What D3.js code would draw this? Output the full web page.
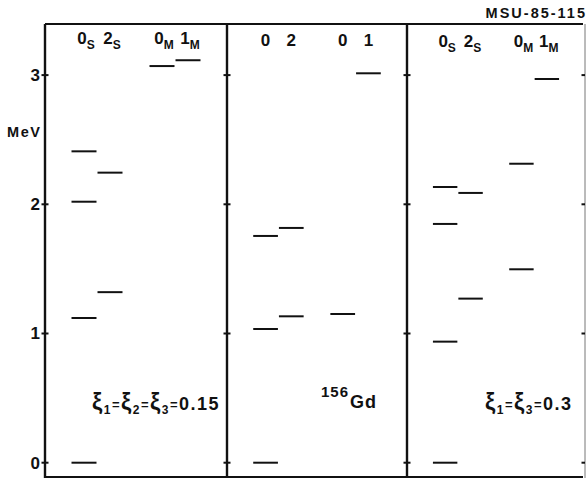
<!DOCTYPE html>
<html>
<head>
<meta charset="utf-8">
<script src="https://cdn.jsdelivr.net/npm/d3@7"></script>
<style>
  html, body { margin: 0; padding: 0; background: #fff; }
  svg { display: block; }
  text { font-family: "Liberation Sans", "DejaVu Sans", sans-serif; font-weight: bold; fill: #111; }
</style>
</head>
<body>
<svg id="chart" width="587" height="478"></svg>
<script>
// Energy axis (MeV) tick values
const energyTicks = [0, 1, 2, 3];

// Column slots inside each panel (7 equal slots, columns in 1,2,4,5)
const columnSlots = [1, 2, 4, 5];

// Column headers: [main label, subscript]
const headersModel = [["0", "S"], ["2", "S"], ["0", "M"], ["1", "M"]];
const headersExp   = [["0", ""], ["2", ""], ["0", ""], ["1", ""]];

// Level energies (MeV) per column
const levelsXi015 = [[0, 1.12, 2.02, 2.41], [1.32, 2.245], [3.07], [3.115]];
const levelsGd156 = [[0, 1.035, 1.755], [1.133, 1.817], [1.151], [3.014]];
const levelsXi03  = [[0, 0.937, 1.848, 2.134], [1.27, 2.088], [1.497, 2.314], [2.97]];

const svg = d3.select("#chart");
const W = 587, H = 478;

const y = d3.scaleLinear().domain([0, 3]).range([462.7, 75.1]);

const frameTop = 24, frameBottom = 477;
const edges = [45, 227, 407, 585];

const panels = [
  { levels: levelsXi015, headers: headersModel },
  { levels: levelsGd156, headers: headersExp },
  { levels: levelsXi03,  headers: headersModel }
];

// Frame: top and bottom rules
svg.append("line").attr("x1", edges[0]).attr("x2", 583).attr("y1", frameTop).attr("y2", frameTop)
  .attr("stroke", "#111").attr("stroke-width", 2);
svg.append("line").attr("x1", edges[0]).attr("x2", 583).attr("y1", frameBottom).attr("y2", frameBottom)
  .attr("stroke", "#111").attr("stroke-width", 2);

// Vertical panel borders with crossing ticks
edges.forEach((ex, i) => {
  const last = i === edges.length - 1;
  svg.append("line").attr("x1", ex).attr("x2", ex).attr("y1", frameTop).attr("y2", H)
    .attr("stroke", last ? "#777" : "#111").attr("stroke-width", last ? 1 : 2.4);
  svg.append("g").selectAll("line").data(energyTicks).join("line")
    .attr("x1", ex - 3.5).attr("x2", last ? ex : ex + 3.5)
    .attr("y1", d => y(d)).attr("y2", d => y(d))
    .attr("stroke", "#111").attr("stroke-width", 2);
});

// Left axis labels
const axis = d3.axisLeft(y).tickValues(energyTicks).tickSize(0).tickPadding(5).tickFormat(d3.format("d"));
const ag = svg.append("g").attr("transform", `translate(${edges[0]},0)`).call(axis);
ag.select(".domain").remove();
ag.selectAll("text").attr("font-size", 17).attr("font-family", "Liberation Sans, sans-serif")
  .attr("font-weight", "bold").attr("fill", "#111");

svg.append("text").attr("x", 7).attr("y", 137).attr("font-size", 14.5).attr("letter-spacing", 1.6).text("MeV");

// Figure code
svg.append("text").attr("x", 587).attr("y", 18).attr("text-anchor", "end")
  .attr("font-size", 14.5).attr("letter-spacing", 2).text("MSU-85-115");

// Panels
panels.forEach((p, pi) => {
  const x = d3.scaleLinear().domain([0, 7]).range([edges[pi], edges[pi + 1]]);
  const g = svg.append("g");

  p.levels.forEach((col, ci) => {
    const slot = columnSlots[ci];
    g.selectAll(null).data(col).join("line")
      .attr("x1", x(slot) + 0.5).attr("x2", x(slot + 1) - 0.5)
      .attr("y1", d => y(d)).attr("y2", d => y(d))
      .attr("stroke", "#111").attr("stroke-width", 2);
  });

  p.headers.forEach(([main, sub], ci) => {
    const slot = columnSlots[ci];
    const cx = x(slot + 0.5) + (sub ? 2 : 0);
    const t = g.append("text").attr("x", cx).attr("y", 44 + pi * 1.5)
      .attr("text-anchor", "middle").attr("font-size", 17);
    t.append("tspan").text(main);
    if (sub) t.append("tspan").attr("font-size", 12).attr("dy", 5).text(sub);
  });
});

// Parameter annotations: ξ with subscripts
function addXi(xPos, yPos, parts) {
  const t = svg.append("text").attr("x", xPos).attr("y", yPos).attr("font-size", 18)
    .attr("letter-spacing", 1.5);
  let shift = 0;
  parts.forEach(([s, kind]) => {
    const ts = t.append("tspan").text(s);
    let target = 0, size = 18;
    if (kind === "xi") { target = 0; size = 23; }
    if (kind === "sub") { target = 4; size = 12; }
    if (kind === "eq") { target = -1; size = 13; }
    ts.attr("font-size", size).attr("dy", target - shift);
    shift = target;
  });
  return t;
}
addXi(92, 410, [["ξ", "xi"], ["1", "sub"], ["=", "eq"], ["ξ", "xi"], ["2", "sub"], ["=", "eq"], ["ξ", "xi"], ["3", "sub"], ["=", "eq"], ["0.15", "n"]]);
addXi(485, 410, [["ξ", "xi"], ["1", "sub"], ["=", "eq"], ["ξ", "xi"], ["3", "sub"], ["=", "eq"], ["0.3", "n"]]);

// Nucleus label
const gd = svg.append("text").attr("x", 321).attr("y", 408).attr("font-size", 18).attr("letter-spacing", 1);
gd.append("tspan").attr("font-size", 15).attr("dy", -11).text("156");
gd.append("tspan").attr("dy", 11).attr("dx", 1).text("Gd");
</script>
</body>
</html>
